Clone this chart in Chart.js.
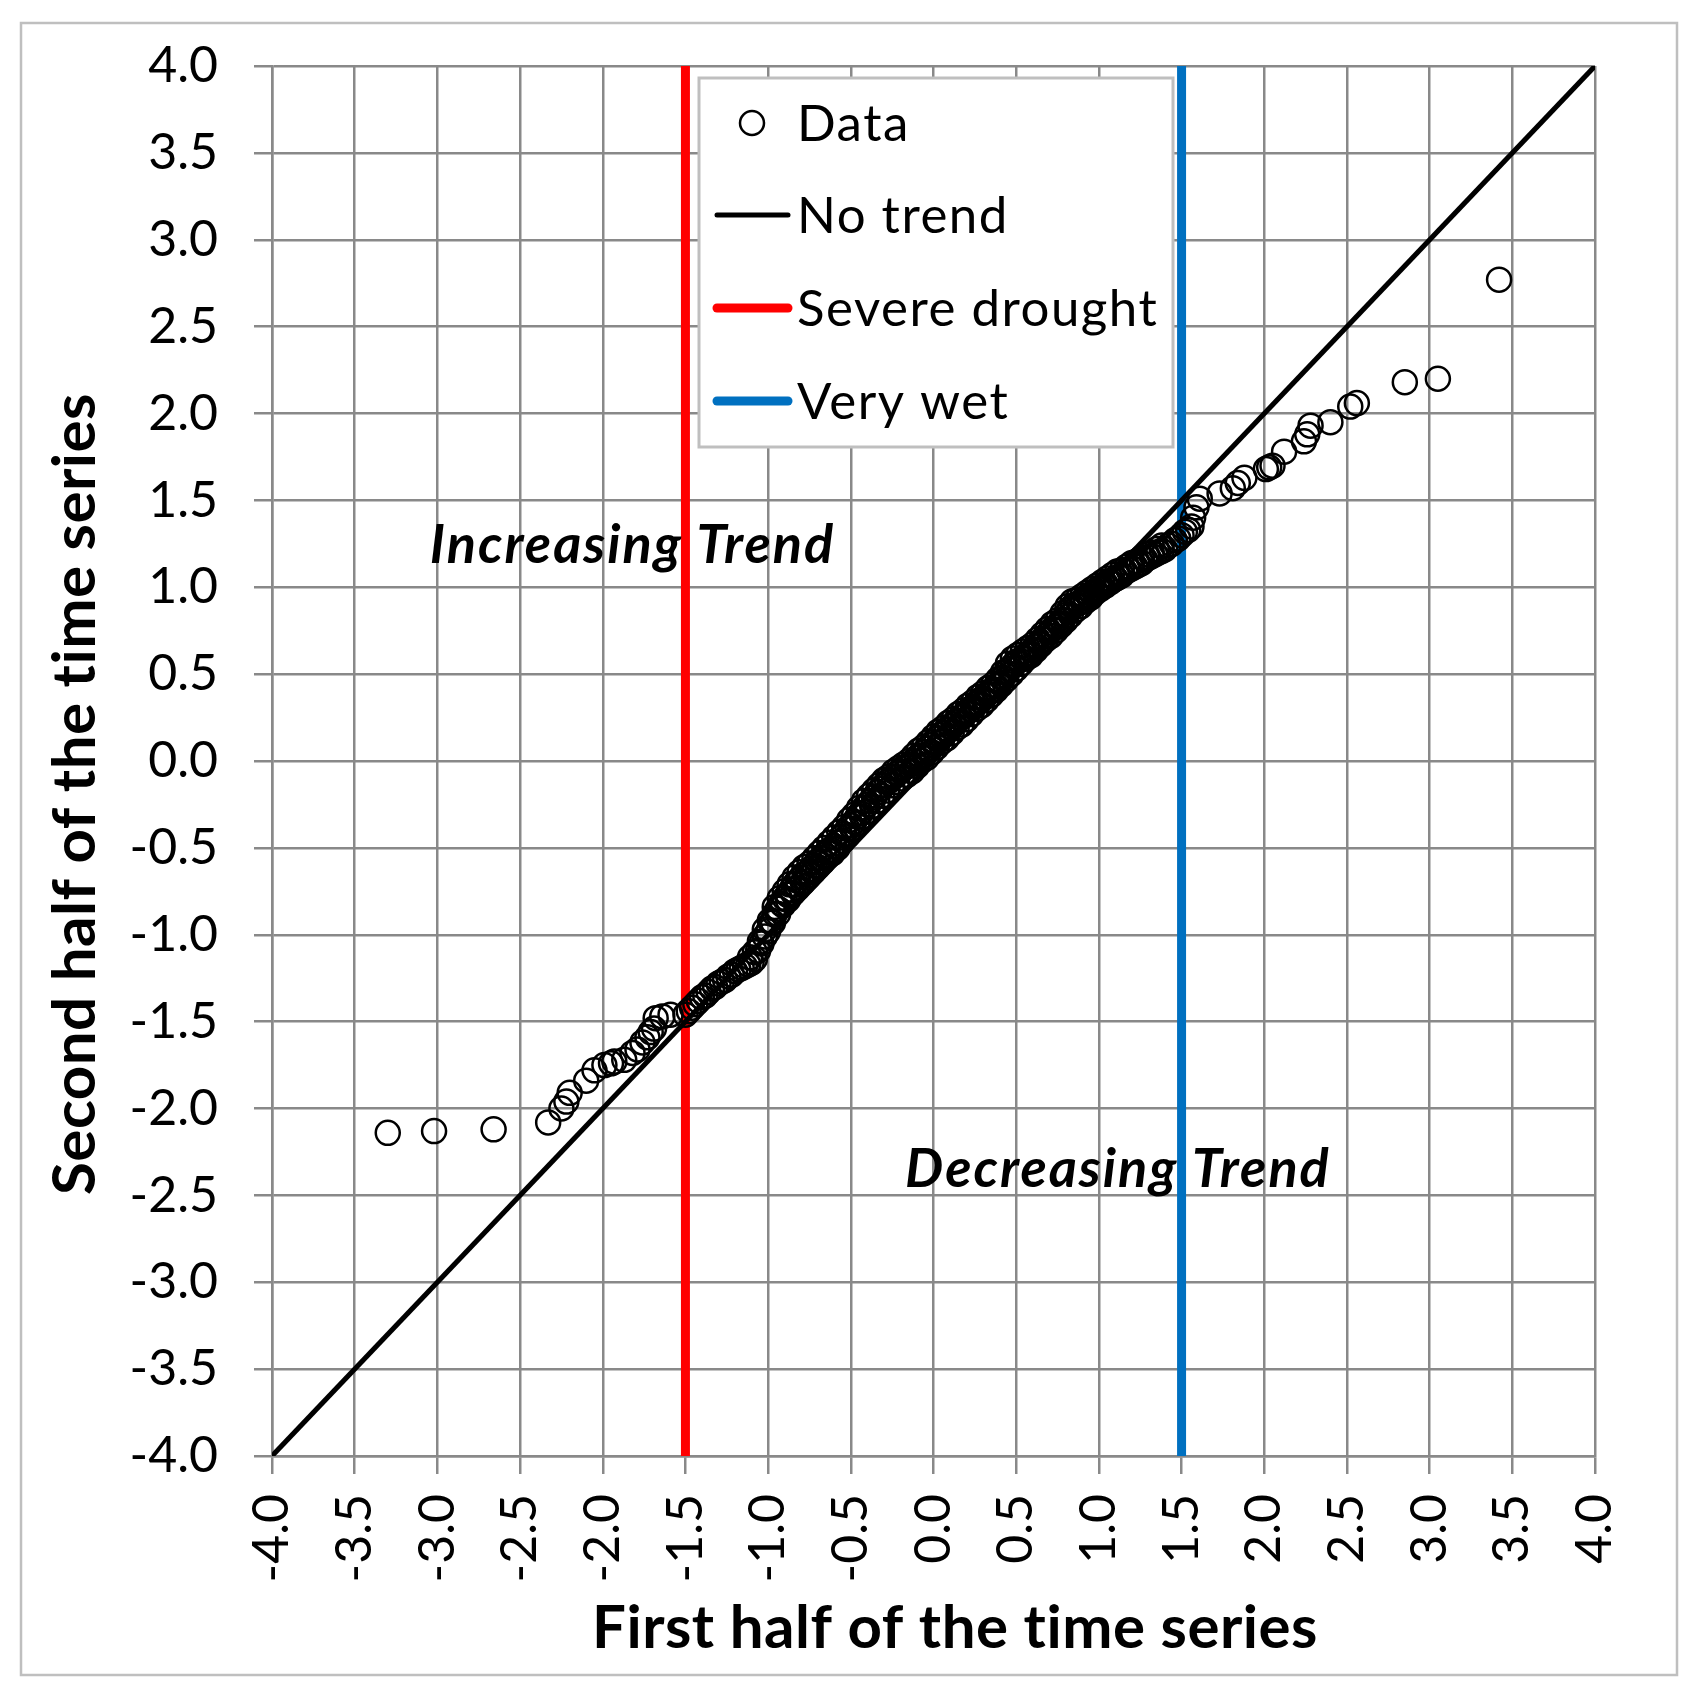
<!DOCTYPE html>
<html><head><meta charset="utf-8">
<script src="https://cdn.jsdelivr.net/npm/chart.js@4.4.1/dist/chart.umd.min.js"></script>
<style>html,body{margin:0;padding:0;background:#fff;} canvas{display:block;}</style>
</head><body>
<canvas id="c" width="1701" height="1695"></canvas>
<script>
// ---- data ----
const firstHalf = [
  // lower tail
  -3.30,-3.02,-2.66,-2.33,-2.25,-2.22,-2.20,-2.10,-2.05,-1.99,-1.95,-1.93,-1.87,-1.82,-1.79,-1.76,-1.73,-1.71,-1.69,-1.68,-1.64,-1.59,
  // dense core
  -1.50,-1.48,-1.46,-1.44,-1.42,-1.40,-1.38,-1.36,-1.34,-1.32,-1.30,-1.28,-1.26,-1.24,-1.22,-1.20,-1.18,-1.16,-1.14,-1.12,
  -1.10,-1.08,-1.06,-1.04,-1.02,-1.00,-0.98,-0.96,-0.94,-0.92,-0.90,-0.88,-0.86,-0.84,-0.82,-0.80,-0.78,-0.76,-0.74,-0.72,
  -0.70,-0.68,-0.66,-0.64,-0.62,-0.60,-0.58,-0.56,-0.54,-0.52,-0.50,-0.48,-0.46,-0.44,-0.42,-0.40,-0.38,-0.36,-0.34,-0.32,
  -0.30,-0.28,-0.26,-0.24,-0.22,-0.20,-0.18,-0.16,-0.14,-0.12,-0.10,-0.08,-0.06,-0.04,-0.02,0.00,0.02,0.04,0.06,0.08,
  0.10,0.12,0.14,0.16,0.18,0.20,0.22,0.24,0.26,0.28,0.30,0.32,0.34,0.36,0.38,0.40,0.42,0.44,0.46,0.48,
  0.50,0.52,0.54,0.56,0.58,0.60,0.62,0.64,0.66,0.68,0.70,0.72,0.74,0.76,0.78,0.80,0.82,0.84,0.86,0.88,
  0.90,0.92,0.94,0.96,0.98,1.00,1.02,1.04,1.06,1.08,1.10,1.12,1.14,1.16,1.18,1.20,1.22,1.24,1.26,1.28,
  1.30,1.32,1.34,1.36,1.38,1.40,1.42,1.44,1.46,1.48,1.50,1.52,1.54,1.56,
  -1.11,-1.08,-1.05,-1.02,-0.99,-0.96,-0.93,-0.90,-0.87,-0.84,-0.81,-0.78,-0.75,-0.72,-0.69,-0.66,-0.63,-0.60,-0.57,-0.54,
  -0.51,-0.48,-0.45,-0.42,-0.39,-0.36,-0.33,-0.30,-0.27,-0.24,-0.21,-0.18,-0.15,-0.12,-0.09,-0.06,-0.03,0.00,0.03,0.06,
  0.09,0.12,0.15,0.18,0.21,0.24,0.27,0.30,0.33,0.36,0.39,0.42,0.45,0.48,0.51,0.54,0.57,0.60,0.63,0.66,
  0.69,0.72,0.75,0.78,0.81,0.84,0.87,0.90,0.93,0.96,0.99,1.02,1.05,1.08,1.11,1.14,1.17,1.20,1.23,1.26,
  1.29,1.32,1.35,1.38,
  -0.97,-0.94,-0.91,-0.88,-0.85,-0.82,-0.79,-0.76,-0.73,-0.70,-0.67,-0.64,-0.61,-0.58,-0.55,-0.52,-0.49,-0.46,-0.43,-0.40,
  -0.37,-0.34,-0.31,-0.28,-0.25,-0.22,-0.19,-0.16,-0.13,-0.10,-0.07,-0.04,-0.01,0.02,0.05,0.08,0.11,0.14,0.17,0.20,
  0.23,0.26,0.29,0.32,0.35,0.38,0.41,0.44,0.47,0.50,0.53,0.56,0.59,0.62,0.65,0.68,0.71,0.74,0.77,0.80,
  0.83,0.86,0.89,0.92,0.95,0.98,1.01,1.04,1.07,1.10,
  // upper tail
  1.57,1.59,1.61,1.73,1.81,1.84,1.88,2.01,2.03,2.05,2.12,2.24,2.26,2.28,2.40,2.52,2.56,2.85,3.05,3.42];
const secondHalf = [
  -2.14,-2.13,-2.12,-2.08,-2.00,-1.96,-1.91,-1.84,-1.78,-1.75,-1.74,-1.73,-1.72,-1.68,-1.66,-1.62,-1.59,-1.56,-1.54,-1.48,-1.47,-1.46,
  -1.46,-1.44,-1.42,-1.40,-1.38,-1.36,-1.35,-1.33,-1.31,-1.30,-1.28,-1.27,-1.26,-1.24,-1.23,-1.21,-1.20,-1.19,-1.18,-1.17,
  -1.16,-1.14,-1.09,-1.05,-1.01,-0.98,-0.93,-0.88,-0.85,-0.82,-0.79,-0.77,-0.74,-0.71,-0.69,-0.67,-0.65,-0.64,-0.62,-0.60,
  -0.58,-0.56,-0.54,-0.52,-0.51,-0.49,-0.47,-0.44,-0.42,-0.39,-0.37,-0.35,-0.32,-0.30,-0.27,-0.25,-0.23,-0.21,-0.18,-0.16,
  -0.14,-0.12,-0.11,-0.09,-0.07,-0.06,-0.04,-0.03,-0.02,0.00,0.02,0.03,0.05,0.07,0.09,0.11,0.13,0.15,0.16,0.18,
  0.20,0.21,0.23,0.25,0.26,0.28,0.30,0.31,0.33,0.35,0.36,0.38,0.40,0.41,0.43,0.45,0.48,0.51,0.53,0.55,
  0.57,0.58,0.59,0.61,0.62,0.64,0.66,0.68,0.70,0.72,0.74,0.76,0.77,0.79,0.81,0.84,0.87,0.89,0.90,0.91,
  0.92,0.94,0.95,0.96,0.98,0.99,1.00,1.02,1.03,1.04,1.05,1.06,1.07,1.09,1.10,1.11,1.12,1.13,1.14,1.16,
  1.17,1.18,1.19,1.20,1.21,1.22,1.24,1.25,1.27,1.28,1.30,1.32,1.33,1.35,
  -1.13,-1.10,-1.04,-0.97,-0.92,-0.84,-0.79,-0.75,-0.71,-0.67,-0.64,-0.61,-0.59,-0.56,-0.53,-0.50,-0.47,-0.44,-0.41,-0.38,
  -0.34,-0.31,-0.27,-0.23,-0.20,-0.17,-0.14,-0.11,-0.09,-0.06,-0.04,-0.02,0.00,0.03,0.06,0.08,0.11,0.14,0.17,0.19,
  0.22,0.24,0.27,0.29,0.32,0.34,0.37,0.39,0.42,0.44,0.47,0.51,0.56,0.59,0.61,0.63,0.65,0.67,0.70,0.73,
  0.76,0.79,0.81,0.85,0.89,0.92,0.93,0.95,0.97,0.99,1.01,1.03,1.05,1.07,1.09,1.10,1.12,1.14,1.15,1.17,
  1.19,1.20,1.22,1.24,
  -0.93,-0.88,-0.83,-0.80,-0.76,-0.73,-0.70,-0.67,-0.64,-0.61,-0.58,-0.55,-0.53,-0.50,-0.46,-0.43,-0.39,-0.36,-0.32,-0.29,
  -0.26,-0.23,-0.20,-0.17,-0.14,-0.12,-0.10,-0.08,-0.06,-0.03,0.00,0.02,0.05,0.08,0.11,0.13,0.16,0.19,0.21,0.24,
  0.27,0.30,0.32,0.35,0.38,0.41,0.44,0.47,0.50,0.53,0.56,0.59,0.61,0.64,0.67,0.70,0.72,0.75,0.78,0.81,
  0.84,0.87,0.89,0.92,0.94,0.97,0.99,1.01,1.03,1.05,
  1.40,1.46,1.51,1.54,1.57,1.60,1.63,1.68,1.69,1.70,1.78,1.84,1.88,1.93,1.95,2.04,2.06,2.18,2.20,2.77];
const axisTicks = [-4.0,-3.5,-3.0,-2.5,-2.0,-1.5,-1.0,-0.5,0.0,0.5,1.0,1.5,2.0,2.5,3.0,3.5,4.0];
const noTrendX = [-4, 4], noTrendY = [-4, 4];
const droughtX = [-1.5, -1.5], droughtY = [-4, 4];
const wetX = [1.5, 1.5], wetY = [-4, 4];
const seriesLabels = ['Data', 'No trend', 'Severe drought', 'Very wet'];
const xTitle = 'First half of the time series';
const yTitle = 'Second half of the time series';
const zoneLabels = ['Increasing Trend', 'Decreasing Trend'];
const zoneX = [-1.82, 1.115];
const zoneY = [1.24, -2.354];

const pts = (xs, ys) => xs.map((x, i) => ({x, y: ys[i]}));
const FONT = 'Lato, "Open Sans", sans-serif';
const GRID = '#898989';

const framePlugin = {
  id: 'frame',
  beforeDraw(chart) {
    const c = chart.ctx;
    c.save();
    c.fillStyle = '#fff';
    c.fillRect(0, 0, chart.width, chart.height);
    c.strokeStyle = '#bfbfbf';
    c.lineWidth = 2.5;
    c.strokeRect(21, 23, 1656, 1652);
    c.restore();
  }
};

const annotPlugin = {
  id: 'annot',
  afterDatasetsDraw(chart) {
    const c = chart.ctx, xs = chart.scales.x, ys = chart.scales.y;
    c.save();
    // zone labels
    c.font = 'italic bold 54px ' + FONT;
    c.letterSpacing = '2px';
    c.fillStyle = '#000';
    c.textAlign = 'center';
    c.textBaseline = 'middle';
    zoneLabels.forEach((t, i) => c.fillText(t, xs.getPixelForValue(zoneX[i]), ys.getPixelForValue(zoneY[i])));
    // axis titles
    c.font = 'bold 60px ' + FONT;
    c.letterSpacing = '0.5px';
    c.fillText(xTitle, 955, 1629);
    c.save();
    c.translate(76, 794);
    c.rotate(-Math.PI / 2);
    c.fillText(yTitle, 0, 0);
    c.restore();
    // legend box
    const bx = 699, by = 78, bw = 474, bh = 369;
    c.fillStyle = '#fff';
    c.fillRect(bx, by, bw, bh);
    c.strokeStyle = '#bfbfbf';
    c.lineWidth = 3;
    c.strokeRect(bx, by, bw, bh);
    const rows = [123, 215, 308, 401];
    const ds = chart.data.datasets;
    c.font = '51px ' + FONT;
    c.letterSpacing = '1.5px';
    c.textAlign = 'left';
    c.textBaseline = 'alphabetic';
    ds.forEach((d, i) => {
      const y = rows[i];
      if (i === 0) {
        c.beginPath();
        c.arc(752, y, 12, 0, Math.PI * 2);
        c.lineWidth = 2.5; c.strokeStyle = '#000'; c.stroke();
      } else {
        c.beginPath();
        c.moveTo(717, y); c.lineTo(788, y);
        c.lineCap = 'round';
        c.lineWidth = i === 1 ? 5 : 9;
        c.strokeStyle = d.borderColor; c.stroke();
      }
      c.fillStyle = '#000';
      c.fillText(d.label, 797, y + 18);
    });
    c.restore();
  }
};

new Chart(document.getElementById('c'), {
  type: 'scatter',
  data: {
    datasets: [
      { label: seriesLabels[0], data: pts(firstHalf, secondHalf), pointStyle: 'circle', pointRadius: 12,
        pointBorderWidth: 2.5, borderColor: '#000', backgroundColor: 'rgba(0,0,0,0)', order: 0 },
      { label: seriesLabels[1], data: pts(noTrendX, noTrendY), showLine: true, borderColor: '#000',
        borderWidth: 5, pointRadius: 0, order: 1 },
      { label: seriesLabels[2], data: pts(droughtX, droughtY), showLine: true, borderColor: '#ff0000',
        borderWidth: 9, pointRadius: 0, order: 2 },
      { label: seriesLabels[3], data: pts(wetX, wetY), showLine: true, borderColor: '#0070c0',
        borderWidth: 9, pointRadius: 0, order: 3 }
    ]
  },
  options: {
    responsive: false,
    animation: false,
    events: [],
    devicePixelRatio: 1,
    layout: { padding: { left: 0, top: 66, right: 106, bottom: 0 } },
    plugins: { legend: { display: false }, tooltip: { enabled: false } },
    scales: {
      x: {
        type: 'linear', min: -4, max: 4,
        afterBuildTicks: s => { s.ticks = axisTicks.map(v => ({ value: v })); },
        afterFit: s => { s.height = 239; },
        ticks: { autoSkip: false, minRotation: 90, maxRotation: 90, padding: 20,
                 color: '#000', font: { family: FONT, size: 50 }, callback: v => Number(v).toFixed(1) },
        grid: { color: GRID, lineWidth: 2.5, tickLength: 18, drawTicks: true },
        border: { color: GRID, width: 2.5 },
        title: { display: false, text: xTitle }
      },
      y: {
        type: 'linear', min: -4, max: 4,
        afterBuildTicks: s => { s.ticks = axisTicks.map(v => ({ value: v })); },
        afterFit: s => { s.width = 272; },
        ticks: { autoSkip: false, padding: 36, color: '#000', font: { family: FONT, size: 50 },
                 callback: v => Number(v).toFixed(1) },
        grid: { color: GRID, lineWidth: 2.5, tickLength: 18, drawTicks: true },
        border: { color: GRID, width: 2.5 },
        title: { display: false, text: yTitle }
      }
    }
  },
  plugins: [framePlugin, annotPlugin]
});
</script>
</body></html>
